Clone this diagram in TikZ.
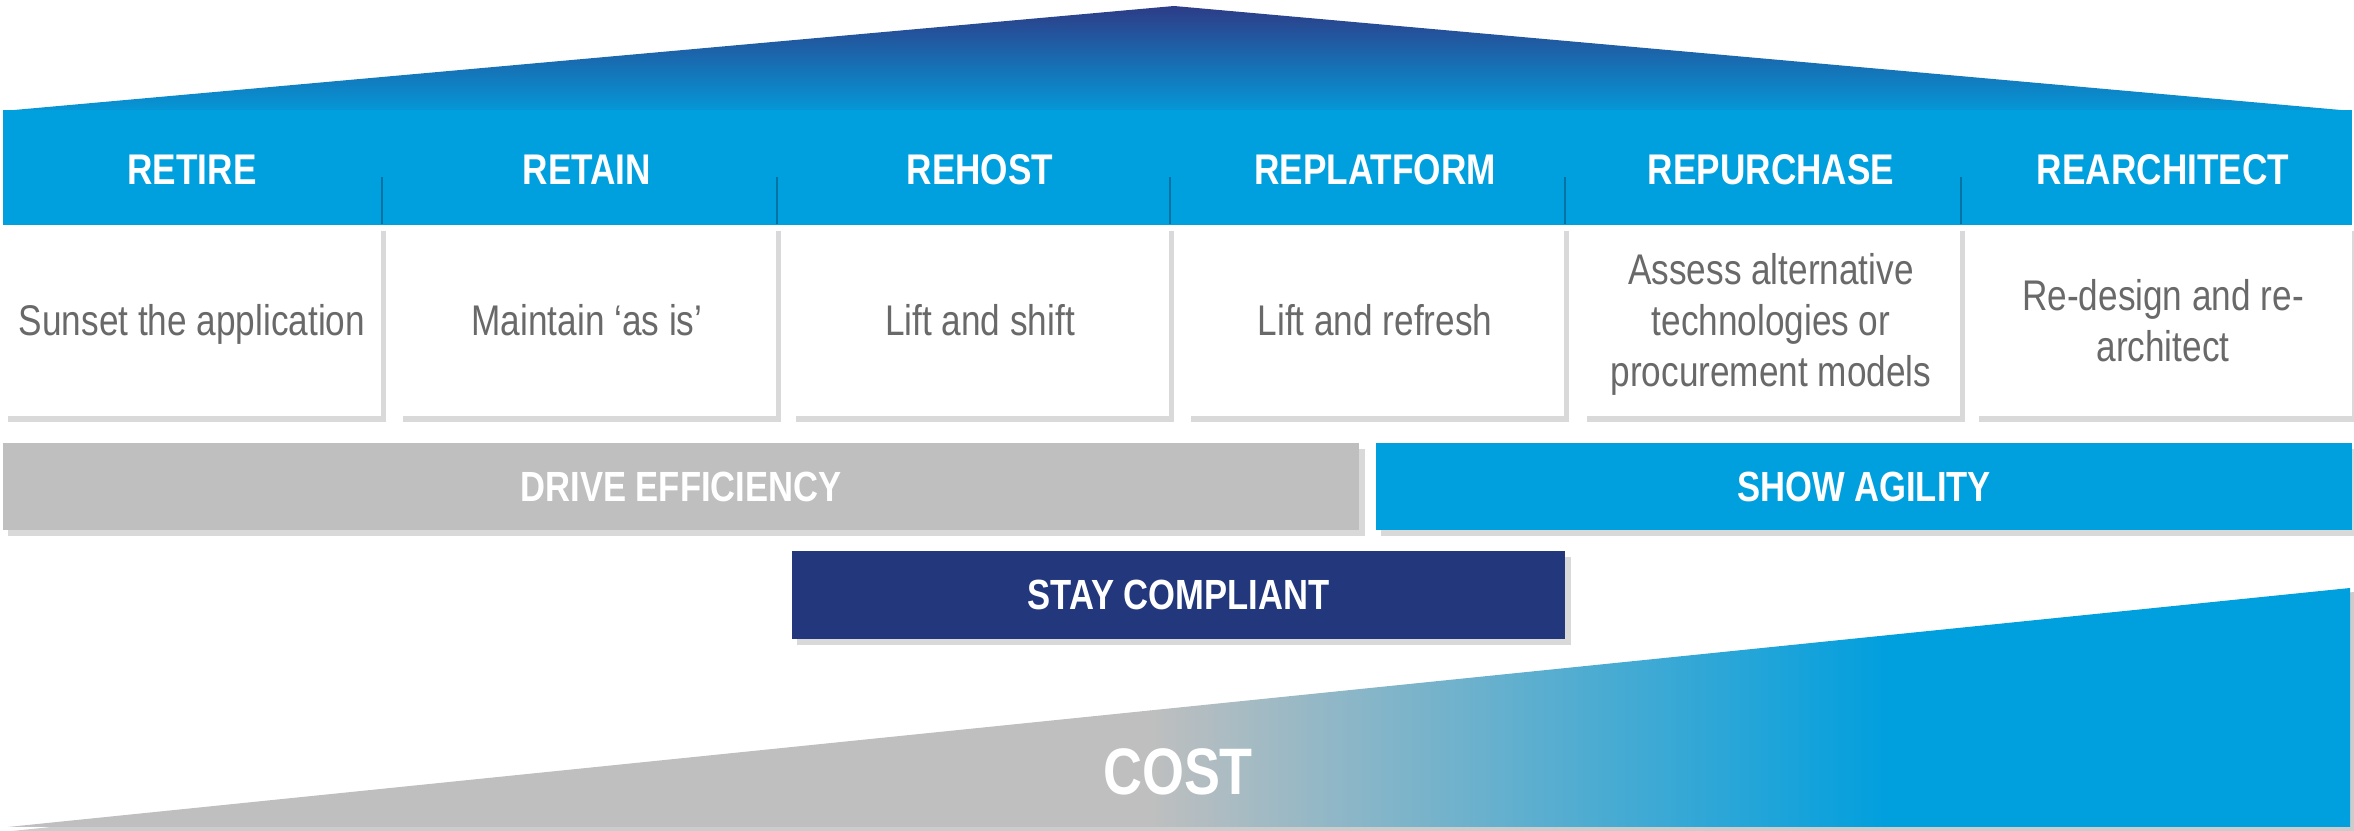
\documentclass[tikz,border=0pt]{standalone}
\usepackage{fontspec}
\usepackage{tikz}
\usetikzlibrary{shadows}
\newfontfamily\narrowfont{Liberation Sans}[FakeStretch=0.82]
\definecolor{migblue}{RGB}{0,159,222}
\definecolor{roofnavy}{RGB}{45,60,135}
\definecolor{roofblue}{RGB}{5,152,215}
\definecolor{compnavy}{RGB}{35,55,125}
\definecolor{effgray}{RGB}{191,191,191}
\definecolor{bodygray}{RGB}{105,105,105}
\definecolor{divblue}{RGB}{0,115,165}
\tikzset{
    cardshadow/.style={drop shadow={shadow xshift=1.5pt,shadow yshift=-1.8pt,opacity=.3}},
    cardhead/.style={inner sep=0pt,text=white,font=\narrowfont\bfseries\fontsize{12.2}{14.5}\selectfont},
    cardbody/.style={cardshadow,fill=white,minimum width=3.78cm,minimum height=1.91cm,inner sep=0pt,
        align=center,text=bodygray,font=\narrowfont\fontsize{12.2}{14.5}\selectfont},
    goalbar/.style={cardshadow,minimum height=0.87cm,inner sep=0pt,text=white,
        font=\narrowfont\bfseries\fontsize{12}{14}\selectfont},
    costlabel/.style={inner sep=0pt,text=white,font=\narrowfont\bfseries\fontsize{18.7}{22}\selectfont},
    divline/.style={divblue,line width=0.6pt}
}
\newcommand{\cardstrut}{\rule[-2.3pt]{0pt}{13.3pt}}
\newcommand{\drawCard}[4]{
    \node[cardbody] (b#1) at (#2+189,320.5) {\cardstrut#4\cardstrut};
    \node[cardhead] (h#1) at (#2+189,170) {#3};
}

\begin{document}
\begin{tikzpicture}[x=0.01cm,y=-0.01cm]
            \useasboundingbox (0,0) rectangle (2354,831);
            \shade[top color=roofnavy,bottom color=roofblue] (3,111) -- (1174,6) -- (2352,111) -- cycle;
            \fill[migblue] (3,110) rectangle (2352,225);

            \drawCard{1}{3}{RETIRE}{Sunset the application}
            \drawCard{2}{398}{RETAIN}{Maintain ‘as is’}
            \drawCard{3}{791}{REHOST}{Lift and shift}
            \drawCard{4}{1186}{REPLATFORM}{Lift and refresh}
            \drawCard{5}{1582}{REPURCHASE}{Assess alternative\\technologies or\\procurement models}
            \drawCard{6}{1974}{REARCHITECT}{Re-design and re-\\architect}

            \draw[divline] (b1.north east) -- ++(0,-47);
            \draw[divline] (b2.north east) -- ++(0,-47);
            \draw[divline] (b3.north east) -- ++(0,-47);
            \draw[divline] (b4.north east) -- ++(0,-47);
            \draw[divline] (b5.north east) -- ++(0,-47);

            \node[goalbar,fill=effgray,minimum width=13.56cm] (eff) at (681,486.5) {DRIVE EFFICIENCY};
            \node[goalbar,fill=migblue,minimum width=9.76cm] (agil) at (1864,486.5) {SHOW AGILITY};
            \node[goalbar,fill=compnavy,minimum width=7.73cm,minimum height=0.88cm] (comp) at (1178.5,595) {STAY COMPLIANT};

            \fill[black,opacity=.2] (12,831) -- (2354,592) -- (2354,831) -- cycle;
            \begin{scope}
                \clip (8,827) -- (2350,588) -- (2350,827) -- cycle;
                \fill[effgray] (0,580) rectangle (1151,831);
                \shade[left color=effgray,right color=migblue] (1150,580) rectangle (1890,831);
                \fill[migblue] (1889,580) rectangle (2354,831);
            \end{scope}
            \node[costlabel] (cost) at (1178,772) {COST};
\end{tikzpicture}
\end{document}
